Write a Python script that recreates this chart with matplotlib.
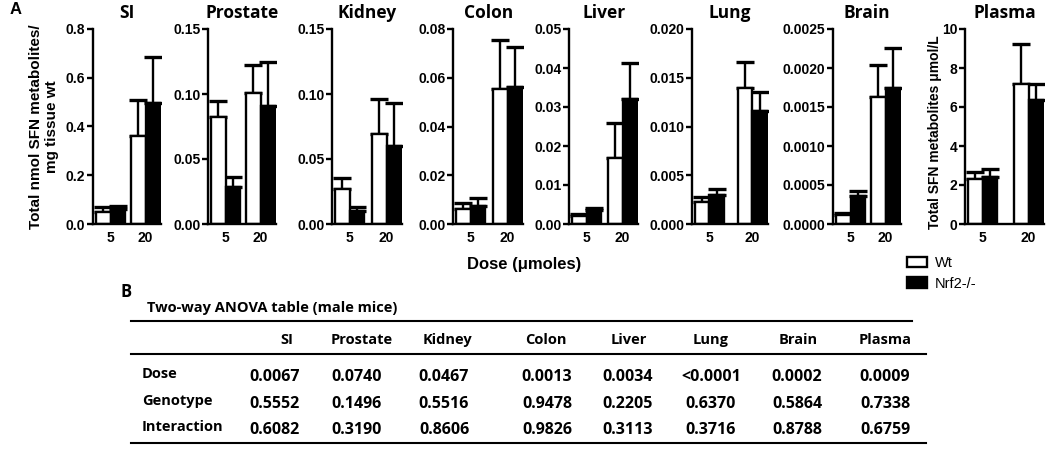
import matplotlib
matplotlib.use("Agg")
import matplotlib.pyplot as plt
from matplotlib.patches import Patch
from matplotlib.ticker import MultipleLocator, FormatStrFormatter

# Datos
tejidos = ['SI', 'Prostate', 'Kidney', 'Colon', 'Liver', 'Lung', 'Brain', 'Plasma']
dosis = ['5', '20']

wt_media = [[0.051, 0.359], [0.082, 0.101], [0.027, 0.069], [0.0062, 0.0553],
            [0.0021, 0.0169], [0.00223, 0.0139], [0.00012, 0.00163], [2.31, 7.17]]
wt_error = [[0.017, 0.151], [0.013, 0.021], [0.0082, 0.027], [0.0026, 0.020],
            [0.0004, 0.009], [0.0005, 0.0027], [0.00002, 0.00041], [0.38, 2.04]]
ko_media = [[0.060, 0.495], [0.0283, 0.0909], [0.0103, 0.0601], [0.0074, 0.0562],
            [0.0036, 0.032], [0.00295, 0.01164], [0.00036, 0.00175], [2.43, 6.34]]
ko_error = [[0.014, 0.189], [0.0082, 0.0337], [0.0025, 0.033], [0.0034, 0.0165],
            [0.0005, 0.0094], [0.0006, 0.0019], [0.00006, 0.0005], [0.38, 0.83]]

y_max = [0.8, 0.15, 0.15, 0.08, 0.05, 0.02, 0.0025, 10]
y_paso = [0.2, 0.05, 0.05, 0.02, 0.01, 0.005, 0.0005, 2]
y_formato = ['%.1f', '%.2f', '%.2f', '%.2f', '%.2f', '%.3f', '%.4f', '%.0f']

# Tabla ANOVA
filas = ['Dose', 'Genotype', 'Interaction']
p_dosis = ['0.0067', '0.0740', '0.0467', '0.0013', '0.0034', '<0.0001', '0.0002', '0.0009']
p_genotipo = ['0.5552', '0.1496', '0.5516', '0.9478', '0.2205', '0.6370', '0.5864', '0.7338']
p_interaccion = ['0.6082', '0.3190', '0.8606', '0.9826', '0.3113', '0.3716', '0.8788', '0.6759']

# Disposición (en píxeles)
W, H = 1050, 453
eje_izq = [93, 208, 332, 453, 569, 692, 833, 965]
hueco = [6, 6, 8, 8, 7, 14, 6, 17]
barra_px = 14.5
arriba, abajo = 29, 224

ARIAL = 'Liberation Sans'
CALIBRI = 'Open Sans'

fig = plt.figure(figsize=(W / 100, H / 100), dpi=100)

for i, tejido in enumerate(tejidos):
    g = hueco[i] / barra_px
    izq = 3 / barra_px
    derecha = izq + 2 + g + 2 + 0.1
    ancho = derecha * barra_px
    ax = fig.add_axes([eje_izq[i] / W, (H - abajo) / H, ancho / W, (abajo - arriba) / H])

    x_wt = [izq, izq + 2 + g]
    x_ko = [izq + 1, izq + 3 + g]
    ax.bar(x_wt, wt_media[i], width=1, align='edge', color='white',
           edgecolor='black', linewidth=1.7, zorder=2)
    ax.bar(x_ko, ko_media[i], width=1, align='edge', color='black',
           edgecolor='black', linewidth=1.7, zorder=2)
    ax.errorbar([x + 0.5 for x in x_wt], wt_media[i],
                yerr=[[0, 0], wt_error[i]], fmt='none', ecolor='black',
                elinewidth=1.7, capsize=6.5, capthick=2.4, zorder=1)
    ax.errorbar([x + 0.5 for x in x_ko], ko_media[i],
                yerr=[[0, 0], ko_error[i]], fmt='none', ecolor='black',
                elinewidth=1.7, capsize=6.5, capthick=2.4, zorder=1)

    ax.set_xlim(0, derecha)
    ax.set_ylim(0, y_max[i])
    ax.yaxis.set_major_locator(MultipleLocator(y_paso[i]))
    ax.yaxis.set_major_formatter(FormatStrFormatter(y_formato[i]))
    ax.set_xticks([x_ko[0], x_ko[1]])
    ax.set_xticklabels(dosis)

    for lado in ['top', 'right']:
        ax.spines[lado].set_visible(False)
    for lado in ['left', 'bottom']:
        ax.spines[lado].set_linewidth(1.7)
    ax.tick_params(axis='y', direction='out', length=4, width=1.7, pad=1.5)
    ax.tick_params(axis='x', length=0, pad=5)
    for t in ax.get_xticklabels() + ax.get_yticklabels():
        t.set_fontfamily(ARIAL)
        t.set_fontweight('bold')
        t.set_fontsize(10)

    ax.set_title(tejido, fontfamily=CALIBRI, fontweight='bold', fontsize=12.5, pad=8)

    if i == 0:
        ax.set_ylabel('Total nmol SFN metabolites/\nmg tissue wt', fontfamily=ARIAL,
                      fontweight='bold', fontsize=11)
        ax.yaxis.set_label_coords(-0.49, 0.5)
    if i == len(tejidos) - 1:
        ax.set_ylabel('Total SFN metabolites \u03bcmol/L', fontfamily=ARIAL,
                      fontweight='bold', fontsize=10)
        ax.yaxis.set_label_coords(-0.29, 0.47)

fig.text(10 / W, 1 - 10 / H, 'A', fontfamily=ARIAL, fontweight='bold', fontsize=12,
         va='center', ha='left')
fig.text(524 / W, 1 - 265 / H, 'Dose (\u03bcmoles)', fontfamily=ARIAL, fontweight='bold',
         fontsize=12, ha='center', va='center')

# Leyenda
manejadores = [Patch(facecolor='white', edgecolor='black', linewidth=1.7),
               Patch(facecolor='black', edgecolor='black', linewidth=1.7)]
fig.legend(manejadores, ['Wt', 'Nrf2-/-'], loc='upper left',
           bbox_to_anchor=(907 / W, 1 - 256 / H), frameon=False,
           handlelength=1.35, handleheight=0.7, handletextpad=0.55,
           labelspacing=0.45, borderpad=0, borderaxespad=0,
           prop={'family': ARIAL, 'size': 10.5})

# Tabla B
axt = fig.add_axes([0, 0, 1, 1], zorder=-1)
axt.set_xlim(0, W)
axt.set_ylim(H, 0)
axt.axis('off')

axt.text(120, 292, 'B', fontfamily=CALIBRI, fontweight='bold', fontsize=12,
         ha='left', va='center')
axt.text(147, 308, 'Two-way ANOVA table (male mice)', fontfamily=CALIBRI,
         fontweight='bold', fontsize=10.5, ha='left', va='center')
axt.plot([131, 912], [321, 321], color='black', lw=1.5)
axt.plot([131, 926], [354, 354], color='black', lw=1.5)
axt.plot([131, 926], [443, 443], color='black', lw=1.5)

x_cabecera = [287, 362, 447, 546, 629, 711, 798, 885]
x_valores = [275, 357, 444, 547, 628, 711, 797, 885]
y_filas = [377, 404, 430]

for xc, tejido in zip(x_cabecera, tejidos):
    axt.text(xc, 340, tejido, fontfamily=CALIBRI, fontweight='bold', fontsize=10.5,
             ha='center', va='center')

for fila, y, valores in zip(filas, y_filas, [p_dosis, p_genotipo, p_interaccion]):
    axt.text(142, y - 3, fila, fontfamily=CALIBRI, fontweight='bold', fontsize=10.5,
             ha='left', va='center')
    for xv, v in zip(x_valores, valores):
        axt.text(xv, y, v, fontfamily=CALIBRI, fontweight='bold', fontsize=11.5,
                 ha='center', va='center')

fig.savefig('out.png', dpi=100)
